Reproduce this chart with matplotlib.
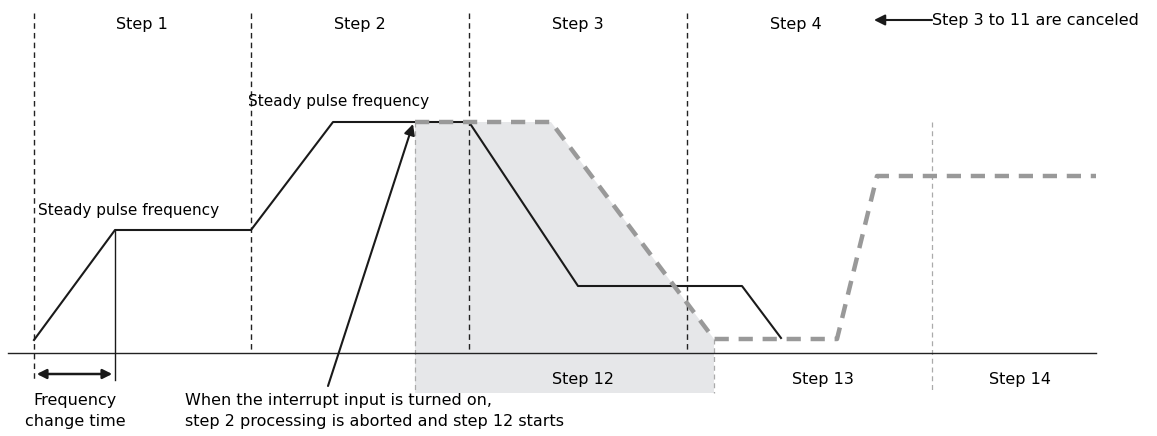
import matplotlib.pyplot as plt
from matplotlib.patches import Polygon, FancyArrowPatch

# diagram coordinates (pixel-like units, y grows downward)
base_y = 353
step_div_x = [34, 251, 469, 687]
step_top_labels = ["Step 1", "Step 2", "Step 3", "Step 4"]
step_top_x = [142, 360, 578, 796]

# original pulse frequency profile (black)
prof_x = [34, 115, 251, 333, 469, 578, 742, 781]
prof_y = [340, 230, 230, 122, 122, 286, 286, 338]

# profile after interrupt (gray dashed)
new_x = [415, 551, 714, 837, 877, 1096]
new_y = [122, 122, 339, 339, 176, 176]

step_bot_labels = ["Step 12", "Step 13", "Step 14"]
step_bot_x = [583, 823, 1020]

fig = plt.figure(figsize=(11.57, 4.36), dpi=100)
ax = fig.add_axes([0, 0, 1, 1])
ax.set_xlim(0, 1157)
ax.set_ylim(436, 0)
ax.axis("off")

grey = "#999999"
shade = "#e6e7e9"

# shaded step 12 region
ax.add_patch(Polygon([(415, 122), (551, 122), (714, 339), (714, 393), (415, 393)],
                     closed=True, facecolor=shade, edgecolor="none", zorder=0))

# baseline
ax.plot([8, 1096], [base_y, base_y], color="#222222", lw=1.0, zorder=2)

# step dividers
ax.plot([34, 34], [13, 380], color="#222222", lw=1.0, ls=(0, (4, 3)), zorder=1)
for x in step_div_x[1:]:
    ax.plot([x, x], [13, base_y], color="#222222", lw=1.0, ls=(0, (4, 3)), zorder=1)
ax.plot([415, 415], [122, 393], color="#aaaaaa", lw=0.9, ls=(0, (4, 3)), zorder=1)
ax.plot([714, 714], [339, 393], color="#aaaaaa", lw=0.9, ls=(0, (4, 3)), zorder=1)
ax.plot([932, 932], [122, 393], color="#aaaaaa", lw=0.9, ls=(0, (4, 3)), zorder=1)

# curves
ax.plot(prof_x, prof_y, color="#1a1a1a", lw=1.5, zorder=3)
ax.plot(new_x, new_y, color=grey, lw=3.2, ls=(0, (3.2, 2.2)), zorder=4)

# frequency change time marker
ax.plot([115, 115], [230, 380], color="#1a1a1a", lw=1.0, zorder=3)
ax.add_patch(FancyArrowPatch((34, 374), (115, 374), arrowstyle="<|-|>",
                             mutation_scale=14, color="#1a1a1a", lw=1.8, zorder=5))

# interrupt arrow
ax.add_patch(FancyArrowPatch((328, 386), (413, 124), arrowstyle="-|>",
                             mutation_scale=16, color="#1a1a1a", lw=1.5,
                             shrinkA=0, shrinkB=0, zorder=5))

# canceled arrow
ax.add_patch(FancyArrowPatch((932, 20), (874, 20), arrowstyle="-|>",
                             mutation_scale=16, color="#1a1a1a", lw=1.5,
                             shrinkA=0, shrinkB=0, zorder=5))

fs = 11.5
font = "DejaVu Sans"
for lab, x in zip(step_top_labels, step_top_x):
    ax.text(x, 24, lab, ha="center", va="center", fontsize=fs, family=font)
for lab, x in zip(step_bot_labels, step_bot_x):
    ax.text(x, 379, lab, ha="center", va="center", fontsize=fs, family=font)

ax.text(932, 20, "Step 3 to 11 are canceled", ha="left", va="center", fontsize=fs, family=font)
ax.text(38, 210, "Steady pulse frequency", ha="left", va="center", fontsize=11, family=font)
ax.text(248, 101, "Steady pulse frequency", ha="left", va="center", fontsize=11, family=font)
ax.text(75, 411, "Frequency\nchange time", ha="center", va="center", fontsize=fs,
        family=font, linespacing=1.45)
ax.text(185, 411, "When the interrupt input is turned on,\nstep 2 processing is aborted and step 12 starts",
        ha="left", va="center", fontsize=fs, family=font, linespacing=1.45)

fig.savefig("out.png", dpi=100)
